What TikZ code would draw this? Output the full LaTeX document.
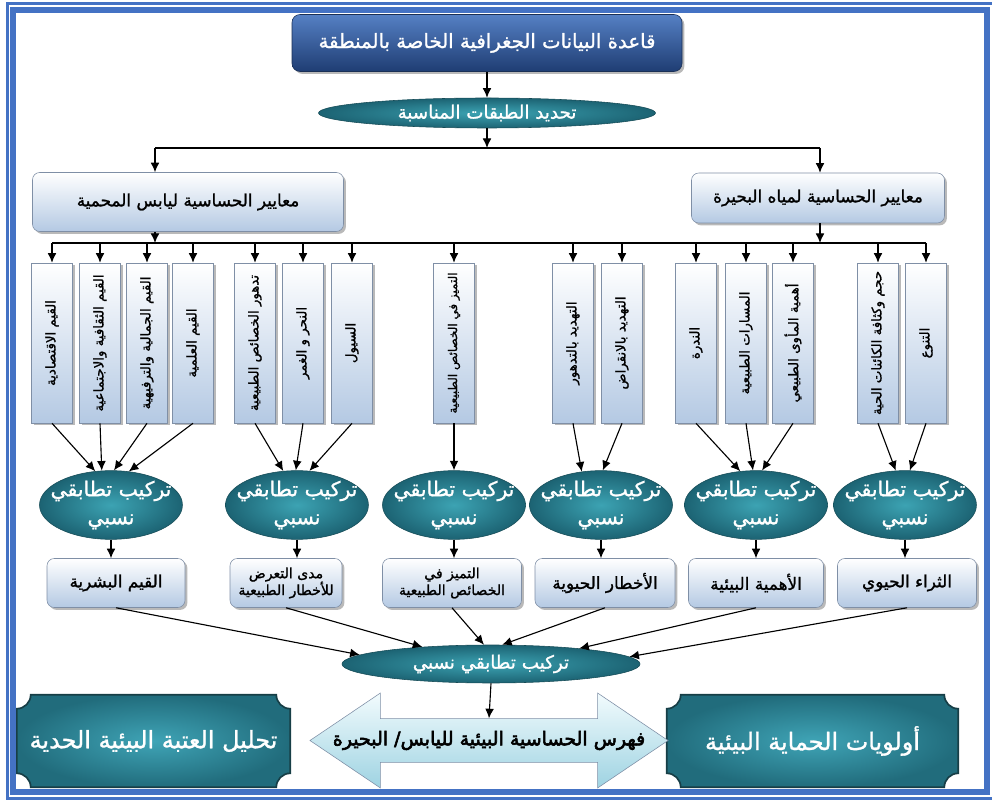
\documentclass[tikz,border=0pt]{standalone}
\usepackage{fontspec}
\usepackage{graphicx}
\usetikzlibrary{shapes.geometric,shapes.arrows,shadows,arrows.meta,calc,backgrounds}
\newfontfamily\arabicfont[Script=Arabic,FakeBold=1.2]{DejaVu Sans}
\newfontfamily\arabicfontB[Script=Arabic,FakeBold=3]{DejaVu Sans}
\TeXXeTstate=1
\newcommand{\ar}[1]{\beginR #1\endR}
\newcommand{\arz}[1]{\makebox[0pt]{\beginR #1\endR}}
\definecolor{frmblue}{HTML}{4472C4}
\definecolor{darkT}{HTML}{5580C4}
\definecolor{darkB}{HTML}{1F3D73}
\definecolor{darkline}{HTML}{1A2F55}
\definecolor{lightB}{HTML}{B4C9E3}
\definecolor{boxline}{HTML}{7F8FA6}
\definecolor{tealI}{HTML}{3CA3B3}
\definecolor{tealO}{HTML}{1C6373}
\definecolor{tealline}{HTML}{164C57}
\definecolor{plqI}{HTML}{3FA4B6}
\definecolor{plqO}{HTML}{216C7C}
\definecolor{plqline}{HTML}{173E46}
\definecolor{idxT}{HTML}{F2FBFD}
\definecolor{idxB}{HTML}{9ED3E2}
\def\px{0.25mm}
\def\rc{14}
\begin{document}
\begin{tikzpicture}[x=0.25mm,y=0.25mm,arr/.style={thick,-{Latex[length=2.4mm,width=2.2mm]}},shd/.style={drop shadow={shadow xshift=0.6mm,shadow yshift=-0.6mm,fill=black!55}},box/.style={rectangle,draw=boxline,inner sep=1pt,align=center,text=black},boxD/.style={box,shd,rounded corners=2mm,draw=darkline,top color=darkT,bottom color=darkB,text=white,minimum width=390*\px,minimum height=57*\px,font={\arabicfont\fontsize{14}{17}\selectfont}},boxC/.style={box,shd,rounded corners=1.8mm,top color=white,bottom color=lightB,font={\arabicfont\fontsize{12}{14}\selectfont}},boxV/.style={box,shd,top color=white,bottom color=lightB,minimum width=41*\px,minimum height=160*\px,font={\arabicfont\fontsize{9.5}{11}\selectfont}},boxR/.style={boxC,minimum width=138*\px,minimum height=49*\px,font={\arabicfont\fontsize{12}{14}\selectfont}},boxRt/.style={boxR,font={\arabicfont\fontsize{10}{12}\selectfont}},ell/.style={ellipse,draw=tealline,inner color=tealI,outer color=tealO,text=white,inner sep=0pt,align=center},ellS/.style={ell,minimum width=337*\px,minimum height=30*\px,font={\arabicfont\fontsize{13}{15}\selectfont}},ellC/.style={ell,minimum width=143*\px,minimum height=68*\px,font={\arabicfont\fontsize{14.5}{20}\selectfont}},ellB/.style={ell,minimum width=298*\px,minimum height=38*\px,font={\arabicfont\fontsize{13}{15}\selectfont}},plq/.style={minimum height=92*\px,inner sep=0pt,text=white,font={\arabicfont\fontsize{17}{20}\selectfont}},idx/.style={double arrow,draw=boxline,top color=idxT,bottom color=idxB,double arrow tip angle=68,double arrow head extend=11.5*\px,minimum height=358*\px,minimum width=95*\px,inner sep=0pt,font={\arabicfontB\fontsize{13.5}{16}\selectfont}}]
\useasboundingbox (0,0) rectangle (992,-802);

% frame
\draw[frmblue,line width=0.75mm] (7.5,-3.5) rectangle (993,-798.5);
\draw[frmblue,line width=1.5mm] (13,-10) rectangle (987,-791.5);

% top of the chart
\node[boxD] (db) at (487,-43) {\ar{قاعدة البيانات الجغرافية الخاصة بالمنطقة}};
\node[ellS] (tS) at (487,-113) {\arz{تحديد الطبقات المناسبة}};
\node[boxC,minimum width=311*\px,minimum height=59*\px] (cL) at (188,-202) {\ar{معايير الحساسية ليابس المحمية}};
\node[boxC,minimum width=253*\px,minimum height=50*\px] (cR) at (818,-198) {\ar{معايير الحساسية لمياه البحيرة}};

\coordinate (j1) at (487,-148);
\coordinate (kL) at (155,-148);
\coordinate (kR) at (820,-148);
\coordinate (j2) at (0,-243);
\draw[arr] (db.south) -- (tS.north);
\draw[arr] (tS.south) -- (j1);
\draw[thick] (kL) -- (kR);
\draw[arr] (kL) -- (kL |- cL.north);
\draw[arr] (kR) -- (kR |- cR.north);
\draw[arr] (kL |- cL.south) -- (kL |- j2);
\draw[arr] (kR |- cR.south) -- (kR |- j2);

% criteria
\foreach \i/\x/\t in {1/52/{القيم الاقتصادية},2/100/{القيم الثقافية والاجتماعية},3/147/{القيم الجمالية والترفيهية},4/193/{القيم العلمية},5/255/{تدهور الخصائص الطبيعية},6/303/{النحر و الغمر},7/352/{السيول},8/454/{\fontsize{8.5}{10}\selectfont التميز في الخصائص الطبيعية},9/573/{التهديد بالتدهور},10/622/{التهديد بالانقراض},11/696/{الندرة},12/746/{المسارات الطبيعية},13/793/{أهمية المأوى الطبيعي},14/878/{حجم وكثافة الكائنات الحية},15/926/{التنوع}}
  \node[boxV] (v\i) at (\x,-343) {\rotatebox{90}{\ar{\t}}};
\draw[thick] (v1.north |- j2) -- (v15.north |- j2);
\foreach \i in {1,...,15}
  \draw[arr] (v\i.north |- j2) -- (v\i.north);

% relative overlays
\foreach \i/\x in {1/111,2/297,3/454,4/601,5/756,6/905}
  \node[ellC] (e\i) at (\x,-505) {\arz{تركيب تطابقي}\\\arz{نسبي}};
\foreach \v/\e/\a in {1/1/115,2/1/105,3/1/85,4/1/62,5/2/112,6/2/92,7/2/70,8/3/90,9/4/120,10/4/87,11/5/115,12/5/95,13/5/80,14/6/105,15/6/82}
  \draw[arr] (v\v.south) -- (e\e.\a);

\node[boxR] (r1) at (116,-583) {\ar{القيم البشرية}};
\node[boxRt,minimum width=112*\px] (r2) at (286,-583) {\ar{مدى التعرض}\\\ar{للأخطار الطبيعية}};
\node[boxRt,minimum width=139*\px] (r3) at (452,-583) {\ar{التميز في}\\\ar{الخصائص الطبيعية}};
\node[boxR,minimum width=140*\px] (r4) at (605,-583) {\ar{الأخطار الحيوية}};
\node[boxR,minimum width=135*\px] (r5) at (756,-583) {\ar{الأهمية البيئية}};
\node[boxR,minimum width=139*\px] (r6) at (907,-583) {\ar{الثراء الحيوي}};
\foreach \i in {1,...,6}
  \draw[arr] (e\i.south) -- (e\i.south |- r\i.north);

% bottom
\node[ellB] (eB) at (491,-664) {\arz{تركيب تطابقي نسبي}};
\foreach \i/\a in {1/176,2/166,3/110,4/60,5/10,6/3}
  \draw[arr] (r\i.south) -- (eB.\a);

\node[idx] (idx) at (489,-740.5) {\arz{فهرس الحساسية البيئية لليابس/ البحيرة}};
\draw[arr] (eB.south) -- (idx.north);
\node[plq,minimum width=273*\px] (pL) at (153.5,-741) {\ar{تحليل العتبة البيئية الحدية}};
\node[plq,minimum width=291*\px] (pR) at (812.5,-741) {\ar{أولويات الحماية البيئية}};
\begin{scope}[on background layer]
\foreach \p in {pL,pR}
  \draw[plqline,line width=1.2pt,inner color=plqI,outer color=plqO] ($(\p.north west)+(\rc,0)$) -- ($(\p.north east)-(\rc,0)$) arc[start angle=180,end angle=270,radius=\rc] -- ($(\p.south east)+(0,\rc)$) arc[start angle=90,end angle=180,radius=\rc] -- ($(\p.south west)+(\rc,0)$) arc[start angle=0,end angle=90,radius=\rc] -- ($(\p.north west)-(0,\rc)$) arc[start angle=270,end angle=360,radius=\rc] -- cycle;
\end{scope}
\end{tikzpicture}
\end{document}
